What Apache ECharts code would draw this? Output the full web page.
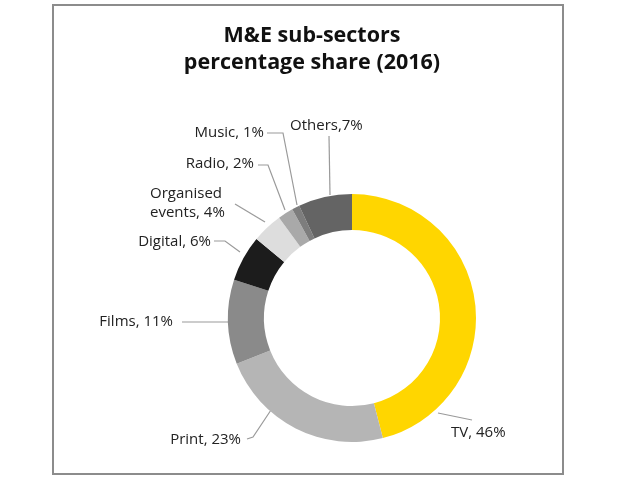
<!DOCTYPE html>
<html>
<head>
<meta charset="utf-8">
<script src="https://cdn.jsdelivr.net/npm/echarts@6/dist/echarts.min.js"></script>
<style>
html,body{margin:0;padding:0;background:#fff;}
#chart{width:620px;height:483px;}
</style>
</head>
<body>
<div id="chart"></div>
<script>
// ---- data ----
const titleText = 'M&E sub-sectors\npercentage share (2016)';
const categories = ['TV', 'Print', 'Films', 'Digital', 'Organised\nevents', 'Radio', 'Music', 'Others'];
const values = [46, 23, 11, 6, 4, 2, 1, 7];
const labelTexts = ['TV, 46%', 'Print, 23%', 'Films, 11%', 'Digital, 6%', 'Organised\nevents, 4%', 'Radio, 2%', 'Music, 1%', 'Others,7%'];

// ---- styles ----
const colors = ['#FFD600', '#B5B5B5', '#8A8A8A', '#1C1C1C', '#DDDDDD', '#A9A9A9', '#7D7D7D', '#646464'];
const labelLayoutCfg = [
  {x: 451, y: 433, align: 'left',  line: [[438, 413], [472, 420], [472, 420]]},
  {x: 241, y: 440, align: 'right', line: [[271, 410], [253, 437], [247, 439]]},
  {x: 173, y: 322, align: 'right', line: [[229, 322], [200, 322], [182, 322]]},
  {x: 211, y: 242, align: 'right', line: [[240, 252], [225, 241], [214, 241]]},
  {x: 150, y: 203, align: 'left',  line: [[265, 222], [250, 213], [235, 204]]},
  {x: 254, y: 164, align: 'right', line: [[285, 210], [268, 165], [258, 165]]},
  {x: 264, y: 133, align: 'right', line: [[297, 205], [283, 133], [267, 133]]},
  {x: 290, y: 126, align: 'left',  line: [[330, 195], [329, 136], [329, 136]]}
];

const chart = echarts.init(document.getElementById('chart'), null, {renderer: 'canvas'});
chart.setOption({
  animation: false,
  backgroundColor: '#fff',
  title: {
    text: titleText,
    left: 307, top: 17, textAlign: 'center',
    textStyle: {fontFamily: 'Open Sans', fontWeight: 'bold', fontSize: 21.5, lineHeight: 27, color: '#111'}
  },
  graphic: [{
    type: 'rect', silent: true,
    shape: {x: 53, y: 5, width: 510, height: 469},
    style: {fill: 'none', stroke: '#8c8c8c', lineWidth: 2}
  }],
  series: [{
    type: 'pie',
    center: [352, 318],
    radius: [88, 124],
    startAngle: 90,
    clockwise: true,
    avoidLabelOverlap: false,
    data: categories.map((c, i) => ({name: c, value: values[i], itemStyle: {color: colors[i]}})),
    itemStyle: {borderWidth: 0},
    label: {
      show: true,
      position: 'outside',
      formatter: p => labelTexts[p.dataIndex],
      fontFamily: 'Open Sans',
      fontSize: 15,
      lineHeight: 19,
      color: '#222'
    },
    labelLine: {show: true, lineStyle: {color: '#9a9a9a', width: 1.2}},
    labelLayout: p => {
      const c = labelLayoutCfg[p.dataIndex];
      return {x: c.x, y: c.y, align: c.align, verticalAlign: 'middle', labelLinePoints: c.line};
    },
    emphasis: {disabled: true}
  }]
});
</script>
</body>
</html>
